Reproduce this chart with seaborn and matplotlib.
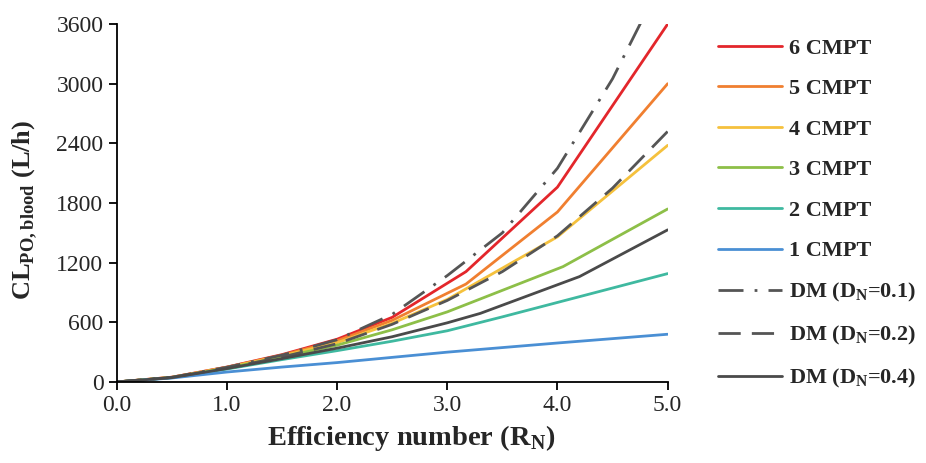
import matplotlib
matplotlib.use("Agg")
import matplotlib.pyplot as plt
import seaborn as sns
import pandas as pd

# values (L/h vs efficiency number)
x_grid = [0.0, 0.5, 1.0, 1.5, 2.0, 2.5, 3.0, 3.5, 4.0, 4.5, 5.0]

x_6cmpt = [0.0, 0.5, 1.0, 1.5, 2.0, 2.5, 3.17, 4.0, 5.0]
y_6cmpt = [0, 48, 150, 275, 430, 650, 1110, 1960, 3600]

x_5cmpt = [0.0, 0.5, 1.0, 1.5, 2.0, 2.5, 3.17, 4.0, 5.0]
y_5cmpt = [0, 47, 148, 270, 415, 620, 985, 1710, 3000]

x_4cmpt = [0.0, 0.5, 1.0, 1.5, 2.0, 2.5, 3.0, 4.0, 5.0]
y_4cmpt = [0, 46, 145, 262, 395, 590, 830, 1460, 2380]

x_3cmpt = [0.0, 0.5, 1.0, 1.5, 2.0, 2.5, 3.0, 4.05, 5.0]
y_3cmpt = [0, 45, 140, 250, 370, 525, 705, 1160, 1740]

x_2cmpt = [0.0, 0.5, 1.0, 1.5, 2.0, 2.5, 3.0, 3.5, 4.0, 5.0]
y_2cmpt = [0, 43, 130, 225, 315, 410, 515, 655, 800, 1090]

x_1cmpt = [0.0, 0.5, 1.0, 1.5, 2.0, 3.0, 4.0, 5.0]
y_1cmpt = [0, 40, 100, 150, 195, 300, 392, 480]

y_dm01 = [0, 47, 148, 270, 425, 680, 1070, 1500, 2150, 3050, 4150]
y_dm02 = [0, 45, 140, 250, 385, 580, 820, 1110, 1470, 1950, 2520]

x_dm04 = [0.0, 0.5, 1.0, 1.5, 2.0, 2.5, 3.0, 3.3, 4.2, 5.0]
y_dm04 = [0, 44, 135, 235, 340, 455, 595, 690, 1060, 1530]

x_ticks = [0, 1, 2, 3, 4, 5]
y_ticks = [0, 600, 1200, 1800, 2400, 3000, 3600]

series = [
    ("6 CMPT", x_6cmpt, y_6cmpt, "#e3262b", "-"),
    ("5 CMPT", x_5cmpt, y_5cmpt, "#f07f30", "-"),
    ("4 CMPT", x_4cmpt, y_4cmpt, "#f5c13d", "-"),
    ("3 CMPT", x_3cmpt, y_3cmpt, "#8dbf48", "-"),
    ("2 CMPT", x_2cmpt, y_2cmpt, "#3fb9a0", "-"),
    ("1 CMPT", x_1cmpt, y_1cmpt, "#4a8fd4", "-"),
    (r"DM ($\mathbf{D_N}$=0.1)", x_grid, y_dm01, "#555555", (0, (9, 4, 1, 4))),
    (r"DM ($\mathbf{D_N}$=0.2)", x_grid, y_dm02, "#555555", (0, (8, 4))),
    (r"DM ($\mathbf{D_N}$=0.4)", x_dm04, y_dm04, "#4a4a4a", "-"),
]

sns.set_theme(style="white")
plt.rcParams["font.family"] = ["Liberation Serif", "DejaVu Serif"]
plt.rcParams["mathtext.fontset"] = "custom"
plt.rcParams["mathtext.rm"] = "Liberation Serif"
plt.rcParams["mathtext.bf"] = "Liberation Serif:bold"

fig, ax = plt.subplots(figsize=(9.26, 4.63), dpi=100)
fig.subplots_adjust(left=0.126, right=0.721, top=0.948, bottom=0.175)

for name, xs, ys, color, ls in series:
    df = pd.DataFrame({"x": xs, "y": ys})
    sns.lineplot(data=df, x="x", y="y", ax=ax, color=color, linestyle=ls,
                 linewidth=2.0, label=name, sort=False, estimator=None)

ax.set_xlim(0, 5)
ax.set_ylim(0, 3600)
ax.set_xticks(x_ticks)
ax.set_xticklabels([f"{t:.1f}" for t in x_ticks])
ax.set_yticks(y_ticks)
ax.tick_params(axis="both", direction="out", length=6, width=1.3, labelsize=17,
               color="black", left=True, bottom=True)
for side in ["top", "right"]:
    ax.spines[side].set_visible(False)
for side in ["left", "bottom"]:
    ax.spines[side].set_color("black")
    ax.spines[side].set_linewidth(1.3)

ax.set_xlabel(r"Efficiency number (R$_\mathbf{N}$)", fontsize=20.5, fontweight="bold", labelpad=4)
ax.xaxis.set_label_coords(0.535, -0.115)
ax.set_ylabel(r"CL$_{\mathbf{PO,blood}}$ (L/h)", fontsize=19, fontweight="bold")
ax.yaxis.set_label_coords(-0.14, 0.48)

leg = ax.legend(loc="upper left", bbox_to_anchor=(1.091, 0.961), frameon=False,
                borderaxespad=0, borderpad=0,
                handlelength=2.9, handletextpad=0.32, labelspacing=0.90,
                prop={"weight": "bold", "size": 16})

fig.savefig("out.png", dpi=100)
